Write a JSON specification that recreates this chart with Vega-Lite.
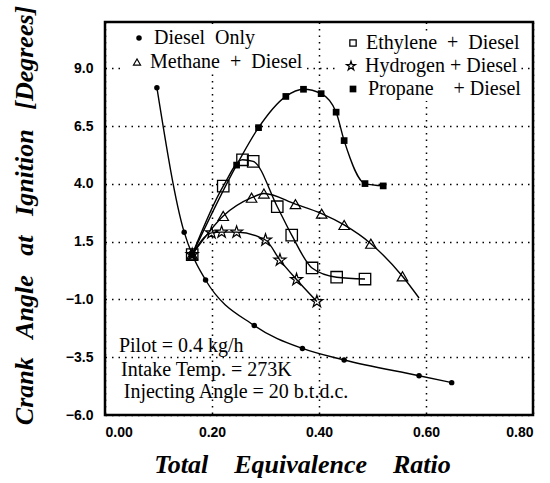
{
  "$schema": "https://vega.github.io/schema/vega-lite/v6.json",
  "autosize": {"type": "none"},
  "padding": {"left": 105, "top": 22, "right": 17, "bottom": 68},
  "width": 428,
  "height": 393,
  "background": "white",
  "config": {
    "view": {"stroke": "black", "strokeWidth": 2.5},
    "axis": {
      "labelFont": "Liberation Sans", "labelFontWeight": "bold", "labelFontSize": 14, "labelColor": "black",
      "titleFont": "Liberation Serif", "titleFontStyle": "italic", "titleFontWeight": "bold", "titleFontSize": 26, "titleColor": "black",
      "ticks": false, "domain": false,
      "gridColor": "black", "gridDash": [1.5, 5], "gridWidth": 1.5, "gridOpacity": 1
    }
  },
  "datasets": {
    "curves": [
      {"series": "Diesel Only", "x": 0.097, "y": 8.16, "measured": true},
      {"series": "Diesel Only", "x": 0.148, "y": 1.91, "measured": true},
      {"series": "Diesel Only", "x": 0.163, "y": 0.94, "measured": true},
      {"series": "Diesel Only", "x": 0.188, "y": -0.16, "measured": true},
      {"series": "Diesel Only", "x": 0.279, "y": -2.13, "measured": true},
      {"series": "Diesel Only", "x": 0.369, "y": -3.12, "measured": true},
      {"series": "Diesel Only", "x": 0.447, "y": -3.62, "measured": true},
      {"series": "Diesel Only", "x": 0.587, "y": -4.30, "measured": true},
      {"series": "Diesel Only", "x": 0.648, "y": -4.60, "measured": true},
      {"series": "Propane + Diesel", "x": 0.163, "y": 0.94, "measured": true},
      {"series": "Propane + Diesel", "x": 0.246, "y": 4.81, "measured": true},
      {"series": "Propane + Diesel", "x": 0.287, "y": 6.43, "measured": true},
      {"series": "Propane + Diesel", "x": 0.338, "y": 7.78, "measured": true},
      {"series": "Propane + Diesel", "x": 0.371, "y": 8.09, "measured": true},
      {"series": "Propane + Diesel", "x": 0.404, "y": 7.90, "measured": true},
      {"series": "Propane + Diesel", "x": 0.432, "y": 7.10, "measured": true},
      {"series": "Propane + Diesel", "x": 0.447, "y": 5.87, "measured": true},
      {"series": "Propane + Diesel", "x": 0.486, "y": 4.01, "measured": true},
      {"series": "Propane + Diesel", "x": 0.520, "y": 3.91, "measured": true},
      {"series": "Ethylene + Diesel", "x": 0.163, "y": 0.94, "measured": true},
      {"series": "Ethylene + Diesel", "x": 0.221, "y": 3.90, "measured": true},
      {"series": "Ethylene + Diesel", "x": 0.257, "y": 5.04, "measured": true},
      {"series": "Ethylene + Diesel", "x": 0.277, "y": 4.97, "measured": true},
      {"series": "Ethylene + Diesel", "x": 0.322, "y": 3.01, "measured": true},
      {"series": "Ethylene + Diesel", "x": 0.349, "y": 1.78, "measured": true},
      {"series": "Ethylene + Diesel", "x": 0.387, "y": 0.36, "measured": true},
      {"series": "Ethylene + Diesel", "x": 0.433, "y": -0.04, "measured": true},
      {"series": "Ethylene + Diesel", "x": 0.486, "y": -0.12, "measured": true},
      {"series": "Methane + Diesel", "x": 0.163, "y": 0.94, "measured": true},
      {"series": "Methane + Diesel", "x": 0.221, "y": 2.61, "measured": true},
      {"series": "Methane + Diesel", "x": 0.274, "y": 3.40, "measured": true},
      {"series": "Methane + Diesel", "x": 0.297, "y": 3.58, "measured": true},
      {"series": "Methane + Diesel", "x": 0.356, "y": 3.12, "measured": true},
      {"series": "Methane + Diesel", "x": 0.405, "y": 2.71, "measured": true},
      {"series": "Methane + Diesel", "x": 0.447, "y": 2.22, "measured": true},
      {"series": "Methane + Diesel", "x": 0.497, "y": 1.41, "measured": true},
      {"series": "Methane + Diesel", "x": 0.556, "y": 0.00, "measured": true},
      {"series": "Methane + Diesel", "x": 0.587, "y": -0.94, "measured": false},
      {"series": "Hydrogen + Diesel", "x": 0.163, "y": 0.94, "measured": true},
      {"series": "Hydrogen + Diesel", "x": 0.199, "y": 1.88, "measured": true},
      {"series": "Hydrogen + Diesel", "x": 0.218, "y": 1.91, "measured": true},
      {"series": "Hydrogen + Diesel", "x": 0.246, "y": 1.91, "measured": true},
      {"series": "Hydrogen + Diesel", "x": 0.300, "y": 1.57, "measured": true},
      {"series": "Hydrogen + Diesel", "x": 0.327, "y": 0.70, "measured": true},
      {"series": "Hydrogen + Diesel", "x": 0.358, "y": -0.14, "measured": true},
      {"series": "Hydrogen + Diesel", "x": 0.396, "y": -1.09, "measured": true}
    ],
    "notes": [
      {"label": "Pilot = 0.4 kg/h", "x": 0.026, "y": -3.26},
      {"label": "Intake Temp. = 273K", "x": 0.030, "y": -4.30},
      {"label": "Injecting Angle = 20 b.t.d.c.", "x": 0.035, "y": -5.28}
    ]
  },
  "data": {"name": "curves"},
  "encoding": {
    "x": {"field": "x", "type": "quantitative",
      "scale": {"domain": [0, 0.8], "nice": false, "zero": false},
      "axis": {"values": [0, 0.2, 0.4, 0.6, 0.8], "format": ".2f", "labelPadding": 10,
        "title": "Total\u00a0\u00a0\u00a0 Equivalence\u00a0\u00a0\u00a0 Ratio", "titlePadding": 12, "titleX": 197}},
    "y": {"field": "y", "type": "quantitative",
      "scale": {"domain": [-6, 11], "nice": false, "zero": false},
      "axis": {"values": [-6, -3.5, -1, 1.5, 4, 6.5, 9], "format": ".1f", "labelPadding": 12,
        "title": "Crank\u00a0\u00a0 Angle\u00a0\u00a0 at\u00a0\u00a0 Ignition\u00a0\u00a0 [Degrees]", "titlePadding": 28, "titleY": 193}}
  },
  "layer": [
    {
      "mark": {"type": "line", "interpolate": "monotone", "color": "black", "strokeWidth": 1.4},
      "encoding": {"detail": {"field": "series"}}
    },
    {
      "transform": [{"filter": "datum.series == 'Diesel Only'"}],
      "mark": {"type": "point", "filled": true, "color": "black", "opacity": 1, "size": 30},
      "encoding": {"shape": {"field": "series", "type": "nominal",
        "scale": {"domain": ["Diesel Only"], "range": ["circle"]},
        "legend": {"orient": "none", "legendX": 22, "legendY": 4, "title": null, "padding": 2, "fillColor": "white",
          "labelFont": "Liberation Serif", "labelFontSize": 20, "labelColor": "black", "labelOffset": 5,
          "symbolSize": 30, "labelExpr": "'Diesel\u00a0 Only'"}}}
    },
    {
      "transform": [{"filter": "datum.series == 'Methane + Diesel' && datum.measured"}],
      "mark": {"type": "point", "filled": false, "color": "black", "opacity": 1, "size": 110, "strokeWidth": 1.2},
      "encoding": {"shape": {"field": "series", "type": "nominal",
        "scale": {"domain": ["Methane + Diesel"], "range": ["triangle-up"]},
        "legend": {"orient": "none", "legendX": 20, "legendY": 28, "title": null, "padding": 2, "fillColor": "white",
          "labelFont": "Liberation Serif", "labelFontSize": 20, "labelColor": "black", "labelOffset": 3,
          "symbolSize": 50, "symbolStrokeWidth": 1.2, "labelExpr": "'Methane\u00a0 +\u00a0 Diesel'"}}}
    },
    {
      "transform": [{"filter": "datum.series == 'Ethylene + Diesel'"}],
      "mark": {"type": "point", "filled": false, "color": "black", "opacity": 1, "size": 130, "strokeWidth": 1.3},
      "encoding": {"shape": {"field": "series", "type": "nominal",
        "scale": {"domain": ["Ethylene + Diesel"], "range": ["square"]},
        "legend": {"orient": "none", "legendX": 236, "legendY": 9, "title": null, "padding": 2, "fillColor": "white",
          "labelFont": "Liberation Serif", "labelFontSize": 20, "labelColor": "black", "labelOffset": 3,
          "symbolSize": 40, "symbolStrokeWidth": 1.3, "labelExpr": "'Ethylene\u00a0 +\u00a0 Diesel'"}}}
    },
    {
      "transform": [{"filter": "datum.series == 'Hydrogen + Diesel'"}],
      "mark": {"type": "point", "filled": false, "color": "black", "opacity": 1, "size": 160, "strokeWidth": 1.2},
      "encoding": {"shape": {"field": "series", "type": "nominal",
        "scale": {"domain": ["Hydrogen + Diesel"], "range": ["M0,-1L0.225,-0.309L0.951,-0.309L0.363,0.118L0.588,0.809L0,0.382L-0.588,0.809L-0.363,0.118L-0.951,-0.309L-0.225,-0.309Z"]},
        "legend": {"orient": "none", "legendX": 234, "legendY": 32, "title": null, "padding": 2, "fillColor": "white",
          "labelFont": "Liberation Serif", "labelFontSize": 20, "labelColor": "black", "labelOffset": 4,
          "symbolSize": 90, "symbolStrokeWidth": 1.2, "labelExpr": "'Hydrogen + Diesel'"}}}
    },
    {
      "transform": [{"filter": "datum.series == 'Propane + Diesel'"}],
      "mark": {"type": "point", "filled": true, "color": "black", "opacity": 1, "size": 45},
      "encoding": {"shape": {"field": "series", "type": "nominal",
        "scale": {"domain": ["Propane + Diesel"], "range": ["square"]},
        "legend": {"orient": "none", "legendX": 236, "legendY": 55, "title": null, "padding": 2, "fillColor": "white",
          "labelFont": "Liberation Serif", "labelFontSize": 20, "labelColor": "black", "labelOffset": 5,
          "symbolSize": 45, "labelExpr": "'Propane\u00a0\u00a0\u00a0 + Diesel'"}}}
    },
    {
      "data": {"name": "notes"},
      "mark": {"type": "text", "align": "left", "baseline": "alphabetic", "font": "Liberation Serif", "fontSize": 20, "color": "black"},
      "encoding": {"text": {"field": "label"}}
    }
  ],
  "resolve": {"scale": {"shape": "independent"}, "legend": {"shape": "independent"}}
}
